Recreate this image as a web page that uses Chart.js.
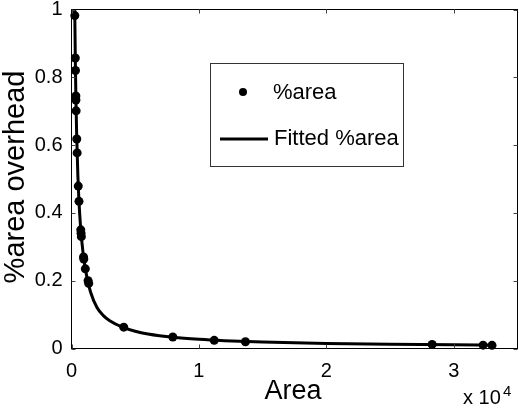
<!DOCTYPE html>
<html lang="en">

<head>
    <meta charset="UTF-8">
    <script src="https://cdn.jsdelivr.net/npm/chart.js"></script>
    <title>%area overhead</title>
    <style>
        html, body { margin: 0; padding: 0; background: #fff; }
        #wrap { width: 519px; height: 408px; }
    </style>
</head>

<body>
    <div id="wrap">
        <canvas id="myChart"></canvas>
    </div>

<script>
    // measured points
    var area = [260, 298, 311, 342, 348, 364, 413, 442, 532, 588, 728, 750, 773, 944, 966, 1085, 1300, 1350,
        4100, 7950, 11200, 13650, 28300, 32300, 33000]
    var pctArea = [0.982, 0.857, 0.820, 0.745, 0.733, 0.701, 0.618, 0.577, 0.479, 0.434, 0.350, 0.340, 0.330,
        0.270, 0.264, 0.235, 0.200, 0.192, 0.063, 0.034, 0.024, 0.020, 0.012, 0.0098, 0.0093]

    // fitted curve
    var fitArea = [255, 300, 350, 400, 500, 600, 700, 800, 1000, 1200, 1500, 2000, 2500, 3000, 4000, 5000,
        6000, 8000, 10000, 12000, 15000, 20000, 25000, 30000, 33000]
    var fitPct = [1.0, 0.85, 0.73, 0.64, 0.51, 0.425, 0.365, 0.32, 0.255, 0.212, 0.166, 0.121, 0.097, 0.082,
        0.063, 0.051, 0.043, 0.033, 0.027, 0.023, 0.019, 0.015, 0.0125, 0.011, 0.0095]

    var xTicks = [0, 10000, 20000, 30000]
    var yTicks = [0, 0.2, 0.4, 0.6, 0.8, 1]

    var legendLabels = ['%area', 'Fitted %area']

    var fonte = 'Liberation Sans, Arial, Helvetica, sans-serif'

    // frame, inward ticks, axis titles, legend
    const extras = {
        id: 'extras',
        afterDraw(chart) {
            const c = chart.ctx
            const a = chart.chartArea
            const xs = chart.scales.x
            const ys = chart.scales.y
            c.save()
            c.strokeStyle = '#000'
            c.lineWidth = 1
            c.strokeRect(a.left, a.top, a.right - a.left, a.bottom - a.top)

            c.strokeStyle = '#444'
            xTicks.forEach(v => {
                const px = Math.round(xs.getPixelForValue(v)) + 0.5
                c.beginPath(); c.moveTo(px, a.bottom); c.lineTo(px, a.bottom - 4); c.stroke()
                c.beginPath(); c.moveTo(px, a.top); c.lineTo(px, a.top + 4); c.stroke()
            })
            yTicks.forEach(v => {
                const py = Math.round(ys.getPixelForValue(v)) + 0.5
                c.beginPath(); c.moveTo(a.left, py); c.lineTo(a.left + 4, py); c.stroke()
                c.beginPath(); c.moveTo(a.right, py); c.lineTo(a.right - 4, py); c.stroke()
            })

            c.fillStyle = '#000'
            c.textBaseline = 'alphabetic'
            c.textAlign = 'center'
            c.font = '27px ' + fonte
            c.fillText('Area', 293, 399)

            c.textAlign = 'left'
            c.font = '20px ' + fonte
            c.fillText('x 10', 463, 404)
            c.font = '15px ' + fonte
            c.fillText('4', 503, 396)

            c.save()
            c.translate(24, 177)
            c.rotate(-Math.PI / 2)
            c.textAlign = 'center'
            c.font = '29px ' + fonte
            c.fillText('%area overhead', 0, 0)
            c.restore()

            // legend
            c.strokeStyle = '#333'
            c.lineWidth = 1
            c.fillStyle = '#fff'
            c.fillRect(210.5, 63.5, 193, 103)
            c.strokeRect(210.5, 63.5, 193, 103)
            c.fillStyle = '#000'
            c.beginPath(); c.arc(243, 92, 4, 0, Math.PI * 2); c.fill()
            c.strokeStyle = '#000'
            c.lineWidth = 3
            c.beginPath(); c.moveTo(220, 139); c.lineTo(268, 139); c.stroke()
            c.font = '22px ' + fonte
            c.textBaseline = 'middle'
            c.textAlign = 'left'
            c.fillText(legendLabels[0], 273, 93)
            c.fillText(legendLabels[1], 274, 139)
            c.restore()
        }
    }

    const ctx = document.getElementById('myChart')

    new Chart(ctx, {
        type: 'scatter',
        data: {
            datasets: [{
                label: legendLabels[1],
                type: 'line',
                data: fitArea.map((x, i) => ({ x: x, y: fitPct[i] })),
                borderColor: '#000',
                borderWidth: 3,
                pointRadius: 0,
                cubicInterpolationMode: 'monotone',
                fill: false,
                order: 2
            }, {
                label: legendLabels[0],
                data: area.map((x, i) => ({ x: x, y: pctArea[i] })),
                backgroundColor: '#000',
                borderColor: '#000',
                pointRadius: 4.5,
                pointBorderWidth: 0,
                order: 1
            }]
        },
        options: {
            responsive: true,
            maintainAspectRatio: false,
            animation: false,
            clip: false,
            layout: { autoPadding: false, padding: { top: 9.5, right: 1.5, left: 0, bottom: 0 } },
            plugins: { legend: { display: false }, tooltip: { enabled: false } },
            scales: {
                x: {
                    type: 'linear',
                    min: 0,
                    max: 35000,
                    afterBuildTicks: s => { s.ticks = xTicks.map(v => ({ value: v })) },
                    afterFit: s => { s.height = 59.5; s.paddingLeft = 0; s.paddingRight = 0 },
                    grid: { display: false, drawTicks: false },
                    border: { display: false },
                    ticks: {
                        color: '#000',
                        padding: 11,
                        maxRotation: 0,
                        font: { family: fonte, size: 20 },
                        callback: v => String(v / 10000)
                    }
                },
                y: {
                    min: 0,
                    max: 1,
                    afterBuildTicks: s => { s.ticks = yTicks.map(v => ({ value: v })) },
                    afterFit: s => { s.width = 71.5; s.paddingTop = 0; s.paddingBottom = 0 },
                    grid: { display: false, drawTicks: false },
                    border: { display: false },
                    ticks: {
                        color: '#000',
                        padding: 9,
                        font: { family: fonte, size: 20 },
                        callback: v => String(Math.round(v * 10) / 10)
                    }
                }
            }
        },
        plugins: [extras]
    })
</script>
</body>

</html>
